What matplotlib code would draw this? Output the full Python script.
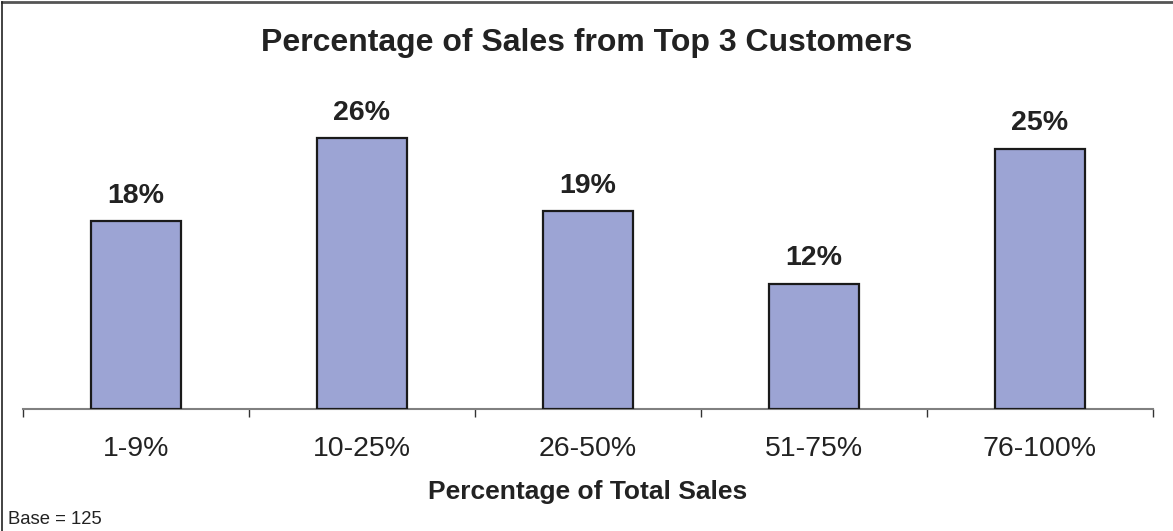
import matplotlib
matplotlib.use("Agg")
import matplotlib.pyplot as plt
from matplotlib.lines import Line2D

plt.rcParams['font.family'] = ['Liberation Sans', 'DejaVu Sans']

categories = ["1-9%", "10-25%", "26-50%", "51-75%", "76-100%"]
values = [18, 26, 19, 12, 25]

W, H = 1173, 531
fig = plt.figure(figsize=(W / 100, H / 100), dpi=100)

left, right, base_y = 23, 1153, 409
ymax = 30
px_per_unit = 10.42
top_y = base_y - ymax * px_per_unit
ax = fig.add_axes([left / W, 1 - base_y / H, (right - left) / W, (base_y - top_y) / H])

x = list(range(len(categories)))
bars = ax.bar(x, values, width=0.4, color="#9ca4d4", edgecolor="#1a1a1a", linewidth=1.6, zorder=3)

for xi, v in zip(x, values):
    ax.annotate(f"{v}%", (xi, v), xytext=(0, 9), textcoords="offset points",
                ha="center", va="bottom", fontsize=20.5, fontweight="bold", color="#222222")

ax.set_xlim(-0.5, len(categories) - 0.5)
ax.set_ylim(0, ymax)
for s in ["top", "right", "left"]:
    ax.spines[s].set_visible(False)
ax.spines["bottom"].set_color("#808080")
ax.spines["bottom"].set_linewidth(1.5)
ax.set_yticks([])

ax.set_xticks(x)
ax.set_xticklabels(categories, fontsize=20.5, color="#222222")
ax.tick_params(axis="x", which="major", length=0, pad=19.5)
ax.set_xticks([i - 0.5 for i in range(len(categories) + 1)], minor=True)
ax.tick_params(axis="x", which="minor", length=6, width=1, color="#333333", direction="out")

ax.set_xlabel("Percentage of Total Sales", fontsize=19, fontweight="bold", color="#222222", labelpad=13)

fig.text(0.5, 1 - 43 / H, "Percentage of Sales from Top 3 Customers", ha="center", va="center",
         fontsize=23, fontweight="bold", color="#222222")
fig.text(8 / W, 1 - 520 / H, "Base = 125", ha="left", va="center", fontsize=13.3, color="#222222")

# frame lines along the top and left edges
fig.add_artist(Line2D([2 / W, 1], [1 - 2 / H, 1 - 2 / H], transform=fig.transFigure, color="#555555", linewidth=2))
fig.add_artist(Line2D([2 / W, 2 / W], [0, 1 - 2 / H], transform=fig.transFigure, color="#222222", linewidth=1.2))

fig.savefig("out.png", dpi=100)
